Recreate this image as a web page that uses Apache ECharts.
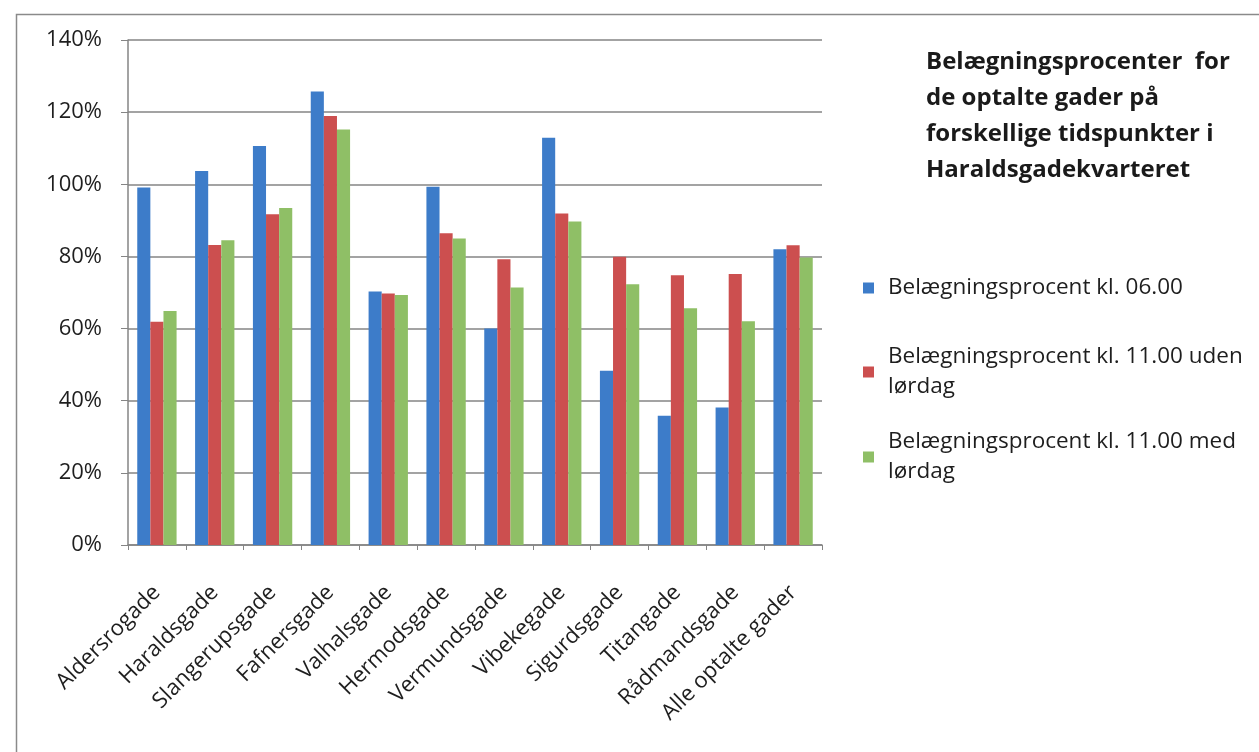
<!DOCTYPE html>
<html>
<head>
<meta charset="utf-8">
<script src="https://cdn.jsdelivr.net/npm/echarts@6/dist/echarts.min.js"></script>
<style>
html,body{margin:0;padding:0;background:#fff;}
#chart{width:1259px;height:752px;}
</style>
</head>
<body>
<div id="chart"></div>
<script>
var categories = ['Aldersrogade','Haraldsgade','Slangerupsgade','Fafnersgade','Valhalsgade','Hermodsgade','Vermundsgade','Vibekegade','Sigurdsgade','Titangade','Rådmandsgade','Alle optalte gader'];
var kl0600 = [99.1, 103.7, 110.6, 125.7, 70.3, 99.3, 60.0, 112.9, 48.3, 35.8, 38.1, 82.0];
var kl1100Uden = [61.9, 83.2, 91.7, 118.9, 69.7, 86.4, 79.2, 91.9, 79.9, 74.8, 75.1, 83.1];
var kl1100Med = [64.9, 84.5, 93.4, 115.2, 69.3, 85.0, 71.4, 89.7, 72.3, 65.6, 62.0, 79.7];
var seriesNames = ['Belægningsprocent kl. 06.00','Belægningsprocent kl. 11.00 uden lørdag','Belægningsprocent kl. 11.00 med lørdag'];
var legendLabels = ['Belægningsprocent kl. 06.00','Belægningsprocent kl. 11.00 uden\nlørdag','Belægningsprocent kl. 11.00 med\nlørdag'];
var titleText = 'Belægningsprocenter  for\nde optalte gader på\nforskellige tidspunkter i\nHaraldsgadekvarteret';
var colors = ['#3d7cc9','#cc4f4f','#8fbf66'];

var FONT = 'Open Sans';
var chart = echarts.init(document.getElementById('chart'), null, {renderer:'canvas'});

function makeLegend(i, top, multi){
  return {
    orient:'vertical', left:858, top:top, padding:5,
    itemWidth:11, itemHeight:11, icon:'rect',
    data:[{name:seriesNames[i]}],
    formatter:function(){ return legendLabels[i]; },
    selectedMode:false,
    textStyle:{fontFamily:FONT, fontSize:22.5, color:'#1e1e1e', lineHeight:30,
      padding: multi ? [30,0,0,9] : [0,0,0,9]}
  };
}

var option = {
  animation:false,
  backgroundColor:'#fff',
  color: colors,
  title:{
    text: titleText, left:926, top:44, padding:0,
    textStyle:{fontFamily:FONT, fontSize:24, fontWeight:'bold', color:'#1a1a1a', lineHeight:36}
  },
  legend:[makeLegend(0,268,false), makeLegend(1,322,true), makeLegend(2,407,true)],
  graphic:[{
    type:'rect', left:14, top:12, silent:true,
    shape:{x:0,y:0,width:1300,height:800},
    style:{fill:'none', stroke:'#8a8a8a', lineWidth:1.5}
  }],
  grid:{left:128, right:437, top:40, bottom:207, containLabel:false},
  xAxis:{
    type:'category', data:categories,
    axisLine:{show:true, lineStyle:{color:'#858585', width:1.5}},
    axisTick:{show:true, length:5, lineStyle:{color:'#858585'}},
    axisLabel:{interval:0, rotate:45, margin:44, fontFamily:FONT, fontSize:22, color:'#1e1e1e'}
  },
  yAxis:{
    type:'value', min:0, max:140, interval:20,
    axisLine:{show:true, lineStyle:{color:'#858585', width:1.5}},
    axisTick:{show:true, length:7, lineStyle:{color:'#858585'}},
    splitLine:{show:true, lineStyle:{color:'#858585', width:1.5}},
    axisLabel:{margin:26, fontFamily:FONT, fontSize:22, color:'#1e1e1e', formatter:'{value}%'}
  },
  series:[
    {name:seriesNames[0], type:'bar', data:kl0600, barGap:'0%', barCategoryGap:'32%'},
    {name:seriesNames[1], type:'bar', data:kl1100Uden, barGap:'0%', barCategoryGap:'32%'},
    {name:seriesNames[2], type:'bar', data:kl1100Med, barGap:'0%', barCategoryGap:'32%'}
  ]
};
chart.setOption(option);
</script>
</body>
</html>
